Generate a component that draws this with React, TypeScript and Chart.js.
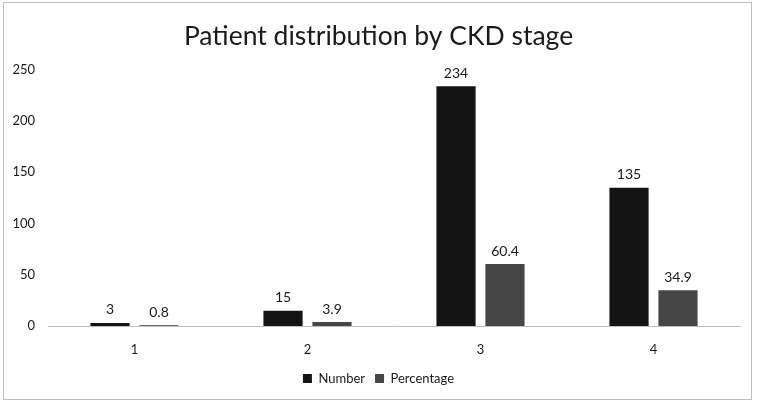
import React, { useEffect, useRef } from "react";
import { Chart, registerables } from "chart.js";

Chart.register(...registerables);

const categories = ["1", "2", "3", "4"];
const numberValues = [3, 15, 234, 135];
const percentageValues = [0.8, 3.9, 60.4, 34.9];
const seriesNames = ["Number", "Percentage"];
const titleText = "Patient distribution by CKD stage";
const yMin = 0;
const yMax = 250;
const yStep = 50;

const FONT = "Lato, 'Open Sans', sans-serif";

const valueLabels = {
  id: "valueLabels",
  afterDatasetsDraw(chart: any) {
    const ctx = chart.ctx;
    ctx.save();
    ctx.font = `14px ${FONT}`;
    ctx.fillStyle = "#1a1a1a";
    ctx.textAlign = "center";
    ctx.textBaseline = "bottom";
    chart.data.datasets.forEach((ds: any, di: number) => {
      const meta = chart.getDatasetMeta(di);
      meta.data.forEach((bar: any, i: number) => {
        ctx.fillText(String(ds.data[i]), bar.x, bar.y - 6);
      });
    });
    ctx.restore();
  },
};

export default function App() {
  const ref = useRef<HTMLCanvasElement>(null);
  useEffect(() => {
    document.body.style.margin = "0";
    const chart = new Chart(ref.current!, {
      type: "bar",
      data: {
        labels: categories,
        datasets: [
          {
            label: seriesNames[0],
            data: numberValues,
            backgroundColor: "#141414",
            categoryPercentage: 0.566,
            barPercentage: 0.8,
          },
          {
            label: seriesNames[1],
            data: percentageValues,
            backgroundColor: "#464646",
            categoryPercentage: 0.566,
            barPercentage: 0.8,
          },
        ],
      },
      options: {
        animation: false,
        responsive: false,
        maintainAspectRatio: false,
        layout: { padding: { left: 0, right: 0, top: 0, bottom: 8 } },
        plugins: {
          title: {
            display: true,
            text: titleText,
            color: "#1a1a1a",
            font: { family: FONT, size: 26.5, weight: "normal" },
            padding: { top: 21, bottom: 17 },
          },
          legend: {
            position: "bottom",
            labels: {
              boxWidth: 9,
              boxHeight: 9,
              color: "#1a1a1a",
              font: { family: FONT, size: 13 },
              padding: 10,
            },
          },
          tooltip: { enabled: false },
        },
        scales: {
          x: {
            grid: { display: false },
            border: { display: true, color: "#bfbfbf", width: 1 },
            ticks: { color: "#1a1a1a", font: { family: FONT, size: 13 }, padding: 8 },
            afterFit(scale: any) {
              scale.height = 36;
            },
          },
          y: {
            min: yMin,
            max: yMax,
            grid: { display: false },
            border: { display: false },
            ticks: {
              stepSize: yStep,
              color: "#1a1a1a",
              font: { family: FONT, size: 13 },
              padding: 5,
            },
            afterFit(scale: any) {
              scale.width = 48;
            },
          },
          ySpacer: {
            position: "right",
            min: yMin,
            max: yMax,
            grid: { display: false },
            border: { display: false },
            ticks: { display: false },
            afterFit(scale: any) {
              scale.width = 17;
            },
          },
        },
      },
      plugins: [valueLabels],
    });
    return () => chart.destroy();
  }, []);
  return (
    <div style={{ position: "relative", width: 757, height: 403, background: "#fff" }}>
      <canvas ref={ref} width={757} height={403} style={{ position: "absolute", left: 0, top: 0 }} />
      <div
        style={{
          position: "absolute",
          left: 3,
          top: 2,
          width: 747,
          height: 396,
          border: "1px solid #bfbfbf",
          pointerEvents: "none",
        }}
      />
    </div>
  );
}
